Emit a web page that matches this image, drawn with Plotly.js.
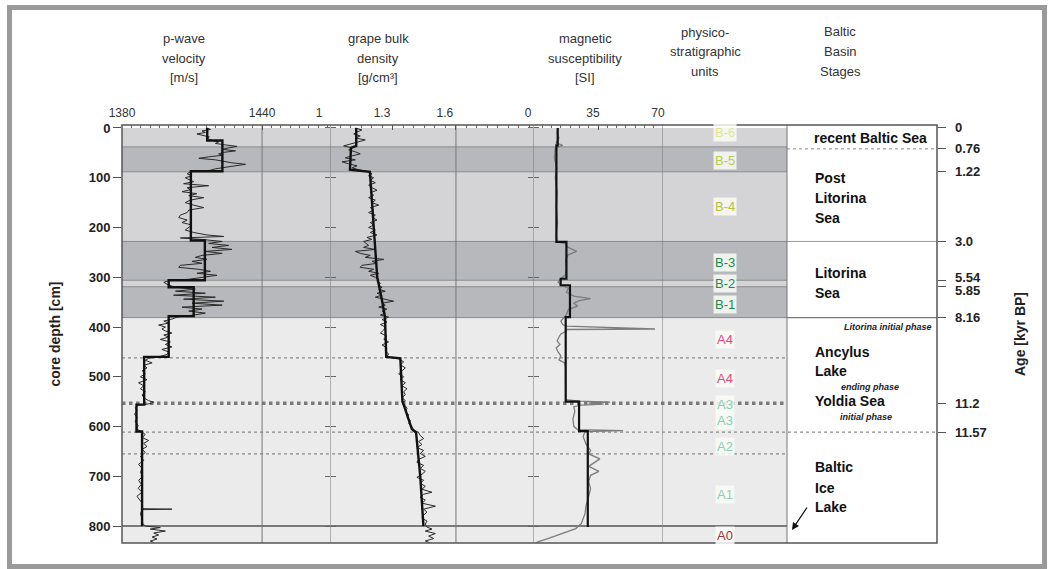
<!DOCTYPE html>
<html>
<head>
<meta charset="utf-8">
<script src="https://cdn.plot.ly/plotly-3.0.1.min.js"></script>
<style>html,body{margin:0;padding:0;background:#fff}#chart{width:1052px;height:569px}</style>
</head>
<body>
<div id="chart"></div>
<script>
// ---------- DATA ----------
// p-wave velocity raw log [m/s]
const pwaveDepth = [0,3,6,9,12,15,18,21,25,28,31,34,37,40,43,46,49,52,55,58,61,64,67,70,73,76,79,82,85,88,92,96,100,104,108,112,116,120,124,128,132,136,140,145,150,155,160,165,170,175,180,185,190,195,200,205,210,215,218,221,224,228,232,236,240,244,248,252,256,260,264,268,272,276,280,284,288,292,296,300,304,307,310,314,318,321,324,328,332,336,340,344,348,352,356,360,364,368,372,376,380,384,388,392,396,400,404,408,412,416,420,425,430,435,440,445,450,455,460,463,467,472,477,482,488,494,500,506,512,518,524,530,536,542,548,551,554,557,562,568,575,582,590,598,605,611,616,622,628,634,640,646,652,660,668,676,684,692,700,708,716,724,732,740,748,754,765,766,767,775,785,795,800,803,806,810,814,818,822,826,830,833];
const pwaveVel = [1416.4,1417.9,1414.3,1415.7,1412.1,1414.3,1417.4,1416.4,1418.6,1421.4,1420,1424.3,1429.3,1425.7,1422.9,1428.6,1423.6,1421.4,1422.9,1417.1,1412.9,1420,1422.9,1427.1,1432.9,1428.6,1422.9,1420,1417.9,1409.3,1407.9,1410,1407.1,1408.6,1410.7,1406.4,1417.1,1407.9,1409.3,1405.7,1412.1,1408.6,1415,1409.3,1407.1,1410.7,1415,1408.6,1407.9,1405,1404.3,1407.9,1405.7,1410,1408.6,1407.1,1410.7,1416.4,1423.6,1405,1414.3,1422.9,1417.1,1425.7,1418.6,1427.1,1415.7,1422.9,1414.3,1411.4,1416.4,1410,1414.3,1405,1404.3,1412.9,1417.9,1412.1,1420.7,1415,1408.6,1400,1397.9,1399.3,1401.4,1405,1411.4,1402.9,1415.7,1402.1,1420,1406.4,1423.6,1410,1422.9,1405.7,1414.3,1408.6,1415.7,1410.7,1403.6,1401.4,1397.9,1400,1395.7,1398.6,1397.1,1398.6,1401.4,1397.9,1400,1396.4,1400.7,1398.6,1401.4,1397.1,1400,1399.3,1395.7,1391.4,1390,1392.9,1389.3,1390.7,1388.6,1390,1387.9,1390.7,1387.1,1389.3,1387.9,1390,1388.6,1389.3,1391.4,1393.6,1392.1,1387.1,1385.7,1386.4,1385.4,1386.4,1385.7,1386.9,1386.4,1388.6,1390,1388.6,1391.4,1389.3,1390.7,1388.6,1390,1387.9,1389.3,1387.1,1388.6,1387.9,1388.9,1387.1,1388.3,1386.9,1388.6,1386.4,1387.9,1388.6,1388.3,1401.4,1388.6,1387.9,1388.6,1388.9,1390,1396.4,1392.1,1398.6,1393.6,1395.7,1392.9,1395,1392.1,1393.6];
// p-wave unit means (step line: top depth of each unit, value)
const pwaveMeanDepth = [0,25,87,226,306,320,378,460,556,610,800];
const pwaveMeanVel = [1416.5,1423,1409.5,1415.5,1400,1410.7,1400,1389.5,1386.2,1388.6,1388.6];

// GRAPE bulk density raw log [g/cm3]
const grapeDepth = [0,4,8,12,16,20,24,28,32,36,40,44,48,52,56,60,64,68,72,76,80,84,88,92,96,100,105,110,115,120,125,130,135,140,145,150,155,160,165,170,175,180,185,190,195,200,205,210,215,220,224,228,236,240,244,248,252,256,260,264,268,272,276,280,284,288,292,296,300,304,308,312,316,320,324,328,332,336,340,344,348,352,356,360,364,368,372,376,380,385,390,395,400,406,412,418,424,430,436,442,448,454,460,464,470,476,482,488,494,500,506,512,518,524,530,536,542,548,553,558,564,570,576,582,588,594,600,606,612,618,624,630,636,642,648,654,660,666,672,678,684,690,696,702,708,714,720,726,732,736,742,748,754,760,766,772,778,784,790,796,802,806,810,815,820,825,830,834];
const grapeDens = [1.121,1.152,1.129,1.113,1.144,1.121,1.168,1.137,1.105,1.065,1.105,1.089,1.121,1.144,1.105,1.073,1.121,1.057,1.089,1.129,1.105,1.137,1.184,1.2,1.184,1.208,1.192,1.216,1.184,1.2,1.224,1.192,1.208,1.184,1.216,1.2,1.232,1.192,1.208,1.184,1.216,1.2,1.224,1.192,1.208,1.184,1.216,1.192,1.224,1.176,1.2,1.16,1.184,1.16,1.216,1.121,1.144,1.192,1.168,1.256,1.2,1.224,1.152,1.144,1.208,1.184,1.232,1.192,1.216,1.232,1.224,1.24,1.232,1.248,1.232,1.263,1.224,1.248,1.216,1.256,1.303,1.248,1.263,1.232,1.271,1.248,1.263,1.24,1.279,1.248,1.271,1.24,1.263,1.256,1.24,1.271,1.256,1.279,1.248,1.271,1.263,1.279,1.271,1.327,1.351,1.335,1.359,1.343,1.327,1.351,1.335,1.359,1.343,1.367,1.351,1.359,1.343,1.359,1.343,1.359,1.367,1.359,1.375,1.367,1.383,1.375,1.39,1.398,1.422,1.43,1.446,1.422,1.438,1.414,1.446,1.43,1.454,1.422,1.414,1.446,1.43,1.454,1.438,1.414,1.446,1.43,1.454,1.438,1.486,1.446,1.43,1.454,1.438,1.502,1.446,1.462,1.446,1.438,1.462,1.454,1.462,1.486,1.454,1.502,1.47,1.494,1.454,1.478];
// GRAPE running mean
const grapeMeanDepth = [0,36,40,84,88,150,228,300,340,380,460,463,550,555,605,612,700,800];
const grapeMeanDens = [1.125,1.125,1.1,1.095,1.19,1.2,1.21,1.225,1.245,1.262,1.268,1.335,1.345,1.35,1.39,1.41,1.43,1.445];

// magnetic susceptibility raw log [SI]
const magDepth = [0,10,20,30,35,40,60,80,100,130,160,190,215,229,232,240,248,255,265,280,295,303,310,316,322,330,338,343,347,352,358,365,375,380,388,395,398,404,405,408,414,420,428,435,442,450,458,466,472,480,500,520,540,546,549,551,553,555,557,560,570,585,600,606,608,610,620,635,648,655,665,672,680,690,698,710,725,740,760,775,785,795,805,815,825,831,834];
const magSusc = [13.5,13,14,12.5,16,12,11.5,12.8,12,13,12.5,13.2,12.5,13,17,19,23.5,19,17.5,18,17.5,15,13.5,15.5,19,18,22,31,25,22,24,19,18,17,15,16,18,65.7,18,18,15,14,13,14.5,12.5,13.5,15,14,17,17.5,17.5,17.5,17.6,17.6,25,41.5,30,38,26,22,22.5,21.5,22,24,48.5,28,27,28.5,31,30,36,33,30,35.5,31,30,31,30,28.5,28,27,26,23,16,8,3,1.5];
// magnetic susceptibility unit means (step line)
const magMeanDepth = [0,35,229,303,316,380,550,609,802];
const magMeanSusc = [13.3,12.6,18,14.9,19.9,17.6,24.8,29.5,29.5];

// axis ticks
const depthTicks = [0,100,200,300,400,500,600,700,800];
const pwaveTicks = [1380,1440];
const grapeTicks = [1,1.3,1.6];
const magTicks = [0,35,70];

// shaded units: [top, bottom, shade]
const bandTop =    [0, 38, 88, 228, 306, 319, 381];
const bandBottom = [38, 88, 228, 306, 319, 381, 834];
const bandShade =  ['mid','dark','mid','dark','mid','dark','light'];

// physico-stratigraphic units
const unitLabels = ['B-6','B-5','B-4','B-3','B-2','B-1','A4','A4','A3','A3','A2','A1','A0'];
const unitDepths = [9,66,157,271,313,355,426,503,556,587,640,736,818];
const unitColors = ['#dfe78f','#bccb4c','#b6c43a','#1d8a4e','#1d8a4e','#1d8a4e','#e2487c','#e2487c','#86d0b8','#86d0b8','#86d0b8','#86d0b8','#a8303e'];

// age tie points
const ageDepths = [0,42,88,228,306,319,380,553,611];
const ageLabels = ['0','0.76','1.22','3.0','5.54','5.85','8.16','11.2','11.57'];

// ---------- LAYOUT HELPERS ----------
const L = 122, R = 937, T = 125, B = 543;
const PX = x => (x - L) / (R - L);
const PY = y => (B - y) / (B - T);
const FONT = 'Liberation Sans, Arial, sans-serif';
const yRange = [834, -6];

const traces = [
  {x: pwaveVel, y: pwaveDepth, xaxis: 'x', yaxis: 'y', mode: 'lines', line: {color: '#2a2a2a', width: 1}, hoverinfo: 'skip'},
  {x: pwaveMeanVel, y: pwaveMeanDepth, xaxis: 'x', yaxis: 'y', mode: 'lines', line: {color: '#111', width: 2.4, shape: 'vh'}, hoverinfo: 'skip'},
  {x: grapeDens, y: grapeDepth, xaxis: 'x2', yaxis: 'y', mode: 'lines', line: {color: '#2a2a2a', width: 1}, hoverinfo: 'skip'},
  {x: grapeMeanDens, y: grapeMeanDepth, xaxis: 'x2', yaxis: 'y', mode: 'lines', line: {color: '#111', width: 2.4}, hoverinfo: 'skip'},
  {x: magSusc, y: magDepth, xaxis: 'x3', yaxis: 'y', mode: 'lines', line: {color: '#7d7d7d', width: 1.3}, hoverinfo: 'skip'},
  {x: magMeanSusc, y: magMeanDepth, xaxis: 'x3', yaxis: 'y', mode: 'lines', line: {color: '#111', width: 2.2, shape: 'vh'}, hoverinfo: 'skip'}
];

const shadeColor = {mid: '#d4d4d6', dark: '#b7b8bc', light: '#ebebeb'};
const shapes = [];
// outer grey frame of the figure
shapes.push({type: 'rect', xref: 'paper', yref: 'paper', x0: PX(9.5), x1: PX(1044.5), y0: PY(566.5), y1: PY(7.5), line: {color: '#9a9a9a', width: 5}, fillcolor: 'rgba(0,0,0,0)', layer: 'below'});
for (let i = 0; i < bandTop.length; i++) {
  shapes.push({type: 'rect', xref: 'paper', yref: 'y', x0: 0, x1: PX(787), y0: bandTop[i], y1: bandBottom[i], fillcolor: shadeColor[bandShade[i]], line: {width: 0}, layer: 'below'});
}
for (let i = 1; i < bandTop.length; i++) {
  shapes.push({type: 'line', xref: 'paper', yref: 'y', x0: 0, x1: PX(787), y0: bandTop[i], y1: bandTop[i], line: {color: '#8a8a8a', width: 1}, layer: 'below'});
}
const hline = (d, x0, x1, color, width, dash) => shapes.push({type: 'line', xref: 'paper', yref: 'y', x0: x0, x1: x1, y0: d, y1: d, line: {color: color, width: width, dash: dash}, layer: 'below'});
hline(462, 0, PX(787), '#8a8a8a', 1.3, 'dot');
hline(553, 0, PX(787), '#7a7a7a', 3.5, 'dot');
hline(611, 0, 1, '#8a8a8a', 1.3, 'dot');
hline(655, 0, PX(787), '#8a8a8a', 1.3, 'dot');
hline(42, PX(787), 1, '#8a8a8a', 1, 'dot');
hline(228, PX(787), 1, '#999', 1, 'solid');
hline(381, PX(787), 1, '#777', 1.2, 'solid');
hline(800, 0, PX(787), '#555', 1.5, 'solid');
// vertical rules
const vline = (xref, x) => shapes.push({type: 'line', xref: xref, yref: 'paper', x0: x, x1: x, y0: 0, y1: 1, line: {color: '#777', width: 1}, layer: 'below'});
vline('x', 1440); vline('x2', 1); vline('x2', 1.6); vline('x3', 0); vline('x3', 70); vline('paper', PX(787));
// plot frame
shapes.push({type: 'rect', xref: 'paper', yref: 'paper', x0: 0, x1: 1, y0: 0, y1: 1, line: {color: '#555', width: 1.5}, fillcolor: 'rgba(0,0,0,0)', layer: 'above'});

const annotations = [];
// column headings
const headings = [
  {x: 184, y: [38, 58, 78], t: ['p-wave', 'velocity', '[m/s]']},
  {x: 378, y: [38, 58, 78], t: ['grape bulk', 'density', '[g/cm³]']},
  {x: 585, y: [38, 58, 78], t: ['magnetic', 'susceptibility', '[SI]']},
  {x: 705, y: [33, 52, 72], t: ['physico-', 'stratigraphic', 'units']},
  {x: 840, y: [32, 52, 72], t: ['Baltic', 'Basin', 'Stages']}
];
headings.forEach(h => h.t.forEach((t, i) => annotations.push({xref: 'paper', yref: 'paper', x: PX(h.x), y: PY(h.y[i]), text: t, showarrow: false, xanchor: 'center', yanchor: 'middle', font: {family: FONT, size: 13, color: '#333'}})));
// unit labels
unitLabels.forEach((t, i) => annotations.push({xref: 'paper', yref: 'y', x: PX(725), y: unitDepths[i], text: t, showarrow: false, xanchor: 'center', yanchor: 'middle', font: {family: FONT, size: 13, color: unitColors[i]}, bgcolor: 'rgba(250,252,246,0.85)', borderpad: 1}));
// stage texts
const bold = (x, y, t, anchor) => annotations.push({xref: 'paper', yref: 'paper', x: PX(x), y: PY(y), text: t, showarrow: false, xanchor: anchor || 'left', yanchor: 'middle', font: {family: FONT, size: 14, color: '#111', weight: 'bold'}});
const small = (x, y, t) => annotations.push({xref: 'paper', yref: 'paper', x: PX(x), y: PY(y), text: t, showarrow: false, xanchor: 'center', yanchor: 'middle', font: {family: FONT, size: 9, color: '#222', weight: 'bold', style: 'italic'}});
bold(870, 138, 'recent Baltic Sea', 'center');
bold(813, 178, 'Post'); bold(813, 198, 'Litorina'); bold(813, 218, 'Sea');
bold(813, 273, 'Litorina'); bold(813, 293, 'Sea');
small(888, 327, 'Litorina initial phase');
bold(813, 352, 'Ancylus'); bold(813, 371, 'Lake');
small(870, 387, 'ending phase');
bold(813, 401, 'Yoldia Sea');
small(866, 417, 'initial phase');
bold(813, 467, 'Baltic'); bold(813, 488, 'Ice'); bold(813, 507, 'Lake');
annotations.push({xref: 'paper', yref: 'paper', x: PX(792), y: PY(530), ax: 16, ay: -24, text: '', showarrow: true, arrowhead: 2, arrowsize: 1.2, arrowwidth: 1.2, arrowcolor: '#111'});
// age labels
ageLabels.forEach((t, i) => annotations.push({xref: 'paper', yref: 'y', x: PX(953), y: ageDepths[i], text: t, showarrow: false, xanchor: 'left', yanchor: 'middle', yshift: t === '5.54' ? 3 : (t === '5.85' ? -4 : 0), font: {family: FONT, size: 13, color: '#222', weight: 'bold'}}));

const topAxis = (domain, range, ticks, minorStep, shift) => ({
  domain: domain, range: range, side: 'top', anchor: 'y', showgrid: false, zeroline: false, showline: false,
  tickmode: 'array', tickvals: ticks, ticks: 'inside', ticklen: 5, tickcolor: '#555',
  ticklabelshift: shift, ticklabelstandoff: 5,
  tickfont: {family: FONT, size: 12, color: '#333'},
  minor: {ticks: 'inside', ticklen: 3, tickcolor: '#666', dtick: minorStep, showgrid: false}
});
const sideTicks = (pos, dir) => ({overlaying: 'y', anchor: 'free', position: pos, range: yRange, showgrid: false, zeroline: false, showline: false, showticklabels: false, tickmode: 'array', tickvals: depthTicks, ticks: dir, ticklen: 5, tickcolor: '#666'});

const layout = {
  width: 1052, height: 569,
  margin: {l: L, r: 1052 - R, t: T, b: 569 - B, pad: 0},
  paper_bgcolor: '#fff', plot_bgcolor: '#fff', showlegend: false,
  font: {family: FONT},
  xaxis: topAxis([0, PX(330)], [1380, 1469.1], pwaveTicks, 4, 0),
  xaxis2: topAxis([PX(330), PX(533)], [1, 1.967], grapeTicks, 0.05, -11),
  xaxis3: topAxis([PX(533), PX(663)], [0, 70], magTicks, 5, -5),
  yaxis: {
    range: yRange, showgrid: false, zeroline: false, showline: false,
    tickmode: 'array', tickvals: depthTicks, ticks: 'outside', ticklen: 8, tickcolor: '#555',
    tickfont: {family: FONT, size: 13, color: '#222', weight: 'bold'},
    title: {text: 'core depth [cm]', standoff: 24, font: {family: FONT, size: 14, color: '#222', weight: 'bold'}}
  },
  yaxis2: {
    overlaying: 'y', side: 'right', anchor: 'free', position: 1, range: yRange, showgrid: false, zeroline: false, showline: false,
    tickmode: 'array', tickvals: ageDepths, ticks: 'outside', ticklen: 8, tickcolor: '#555', showticklabels: false,
    title: {text: 'Age [kyr BP]', standoff: 70, font: {family: FONT, size: 14, color: '#222', weight: 'bold'}}
  },
  yaxis3: sideTicks(PX(330), 'outside'),
  yaxis4: sideTicks(PX(330), 'inside'),
  yaxis5: sideTicks(PX(533), 'outside'),
  yaxis6: sideTicks(PX(533), 'inside'),
  shapes: shapes,
  annotations: annotations
};

// invisible traces bind overlaying axes so their ticks render
['y2', 'y3', 'y4', 'y5', 'y6'].forEach(ya => traces.push({x: [null], y: [null], xaxis: 'x', yaxis: ya, mode: 'lines', hoverinfo: 'skip', showlegend: false}));

Plotly.newPlot('chart', traces, layout, {staticPlot: true, displayModeBar: false});
</script>
</body>
</html>
